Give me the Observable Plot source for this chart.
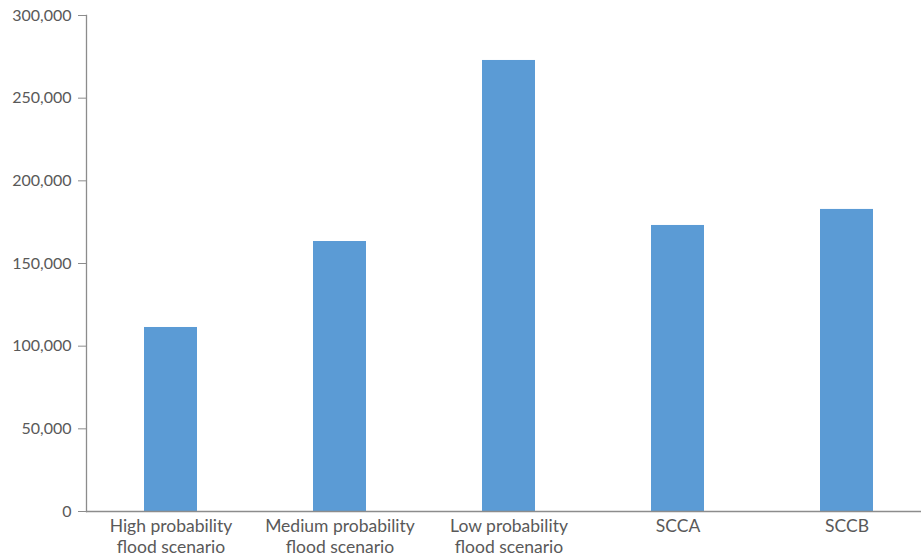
<!DOCTYPE html>
<html>
<head>
<meta charset="utf-8">
<script src="https://cdn.jsdelivr.net/npm/d3@7"></script>
<script src="https://cdn.jsdelivr.net/npm/@observablehq/plot@0.6"></script>
<style>
  html, body { margin: 0; padding: 0; background: #fff; }
  svg { display: block; }
</style>
</head>
<body>
<div id="chart"></div>
<script>
const categories = [
  "High probability\nflood scenario",
  "Medium probability\nflood scenario",
  "Low probability\nflood scenario",
  "SCCA",
  "SCCB"
];
const values = [111300, 163300, 272800, 173000, 182700];
const yTicks = [0, 50000, 100000, 150000, 200000, 250000, 300000];

const data = categories.map((c, i) => ({category: c, value: values[i]}));

const chart = Plot.plot({
  width: 921,
  height: 560,
  marginTop: 15,
  marginBottom: 49,
  marginLeft: 86,
  marginRight: 0,
  style: {fontFamily: "Lato, 'Open Sans', sans-serif", fontSize: "16px", color: "#595959", background: "#fff"},
  x: {domain: categories, range: [86, 931], paddingInner: 0.685, paddingOuter: 0.3425, label: null},
  y: {domain: [0, 300000], label: null},
  marks: [
    Plot.barY(data, {x: "category", y: "value", fill: "#5B9BD5"}),
    Plot.ruleY([0], {stroke: "#8c8c8c", strokeWidth: 1.3}),
    Plot.frame({anchor: "left", stroke: "#8c8c8c", strokeWidth: 1.3}),
    Plot.axisY({ticks: yTicks, tickSize: 8, tickPadding: 7, tickFormat: d3.format(","), stroke: "#8c8c8c", fill: "#595959", label: null, fontSize: 16}),
    Plot.axisX({tickSize: 0, tickPadding: 6, lineHeight: 1.2, fill: "#595959", label: null, fontSize: 17.5})
  ]
});
document.getElementById("chart").appendChild(chart);
</script>
</body>
</html>
